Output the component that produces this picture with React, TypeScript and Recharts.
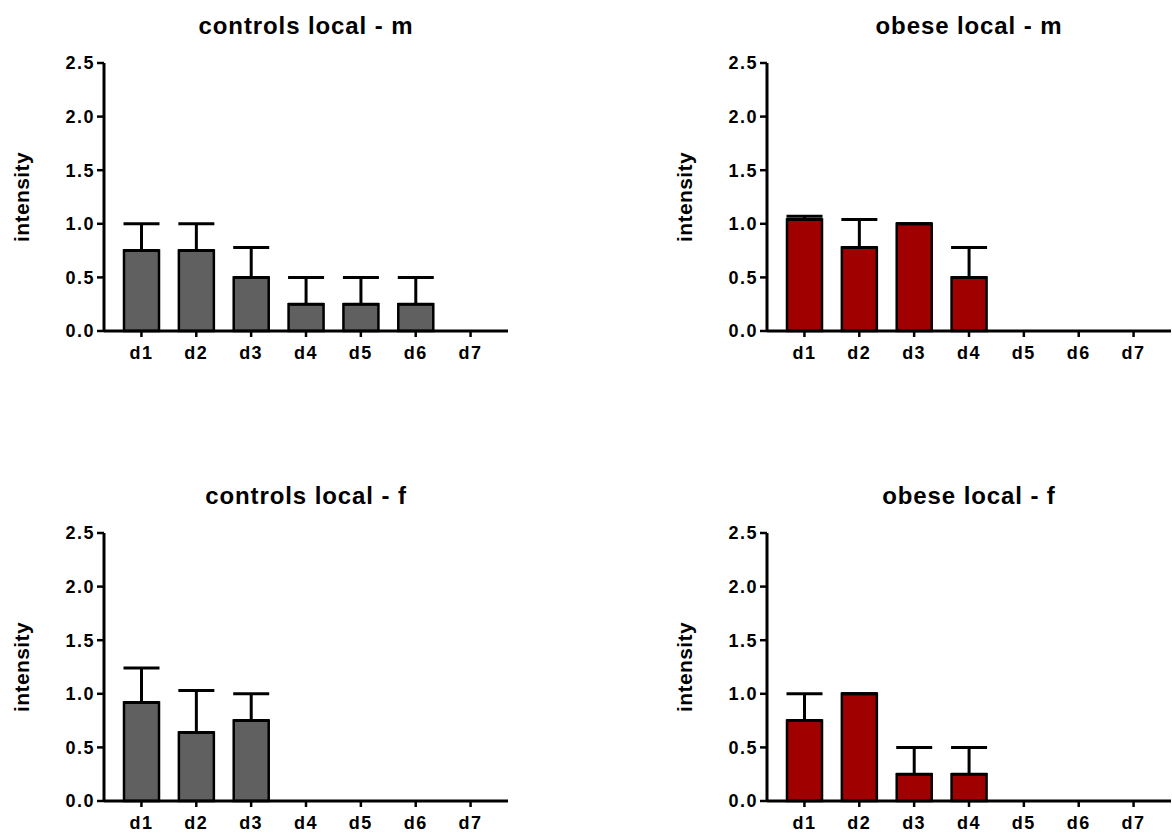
import { BarChart, Bar, XAxis, YAxis, ErrorBar } from 'recharts';

const categories = ['d1', 'd2', 'd3', 'd4', 'd5', 'd6', 'd7'];
const yTicks = [0, 0.5, 1.0, 1.5, 2.0, 2.5];

const controlsMale = [0.75, 0.75, 0.5, 0.25, 0.25, 0.25, 0];
const controlsMaleErr = [0.25, 0.25, 0.28, 0.25, 0.25, 0.25, 0];
const obeseMale = [1.04, 0.78, 1.0, 0.5, 0, 0, 0];
const obeseMaleErr = [0.03, 0.26, 0, 0.28, 0, 0, 0];
const controlsFemale = [0.92, 0.64, 0.75, 0, 0, 0, 0];
const controlsFemaleErr = [0.32, 0.39, 0.25, 0, 0, 0, 0];
const obeseFemale = [0.75, 1.0, 0.25, 0.25, 0, 0, 0];
const obeseFemaleErr = [0.25, 0, 0.25, 0.25, 0, 0, 0];

const FONT = '"Liberation Sans", Arial, sans-serif';
const GREY = '#606060';
const RED = '#a00000';

const buildRows = (values: number[], errs: number[]) =>
  categories.map((name, i) => ({ name, value: values[i], err: [0, errs[i]] }));

interface PanelProps {
  title: string;
  values: number[];
  errs: number[];
  color: string;
  left: number;
  top: number;
  height: number;
}

// plot area sits at y 63..331 inside each panel, x 104..508
const Panel = ({ title, values, errs, color, left, top, height }: PanelProps) => {
  const data = buildRows(values, errs);
  const tickStyle = { fill: '#000', fontSize: 18, fontWeight: 'bold', fontFamily: FONT, letterSpacing: 1.5 };
  return (
    <div style={{ position: 'absolute', left, top, width: 509, height }}>
      <div
        style={{
          position: 'absolute',
          left: 104,
          top: 14,
          width: 404,
          textAlign: 'center',
          fontFamily: FONT,
          fontWeight: 'bold',
          fontSize: 24,
          lineHeight: '24px',
          letterSpacing: 0.9,
          color: '#000',
        }}
      >
        {title}
      </div>
      <BarChart
        width={509}
        height={height}
        data={data}
        margin={{ top: 63, right: 1, bottom: height - 331 - 32, left: 12 }}
      >
        <XAxis
          dataKey="name"
          height={32}
          padding={{ left: 10, right: 10 }}
          axisLine={{ stroke: '#000', strokeWidth: 3 }}
          tickLine={{ stroke: '#000', strokeWidth: 2.5 }}
          tickSize={6}
          tickMargin={9}
          tick={tickStyle}
        />
        <YAxis
          width={92}
          domain={[0, 2.5]}
          ticks={yTicks}
          tickFormatter={(v: number) => v.toFixed(1)}
          axisLine={{ stroke: '#000', strokeWidth: 3 }}
          tickLine={{ stroke: '#000', strokeWidth: 2.5 }}
          tickSize={7}
          tickMargin={2}
          tick={tickStyle}
          label={{
            value: 'intensity',
            angle: -90,
            position: 'insideLeft',
            offset: 10,
            style: {
              textAnchor: 'middle',
              fill: '#000',
              fontSize: 21,
              fontWeight: 'bold',
              fontFamily: FONT,
              letterSpacing: 0.4,
            },
          }}
        />
        <Bar dataKey="value" fill={color} stroke="#000" strokeWidth={2.5} barSize={35} isAnimationActive={false}>
          <ErrorBar dataKey="err" width={18} stroke="#000" strokeWidth={3} direction="y" isAnimationActive={false} />
        </Bar>
      </BarChart>
    </div>
  );
};

export default function App() {
  return (
    <div
      style={{
        position: 'absolute',
        left: 0,
        top: 0,
        width: 1172,
        height: 833,
        overflow: 'hidden',
        background: '#fff',
      }}
    >
      <Panel title="controls local - m" values={controlsMale} errs={controlsMaleErr} color={GREY} left={0} top={0} height={380} />
      <Panel title="obese local - m" values={obeseMale} errs={obeseMaleErr} color={RED} left={663} top={0} height={380} />
      <Panel title="controls local - f" values={controlsFemale} errs={controlsFemaleErr} color={GREY} left={0} top={470} height={363} />
      <Panel title="obese local - f" values={obeseFemale} errs={obeseFemaleErr} color={RED} left={663} top={470} height={363} />
    </div>
  );
}
